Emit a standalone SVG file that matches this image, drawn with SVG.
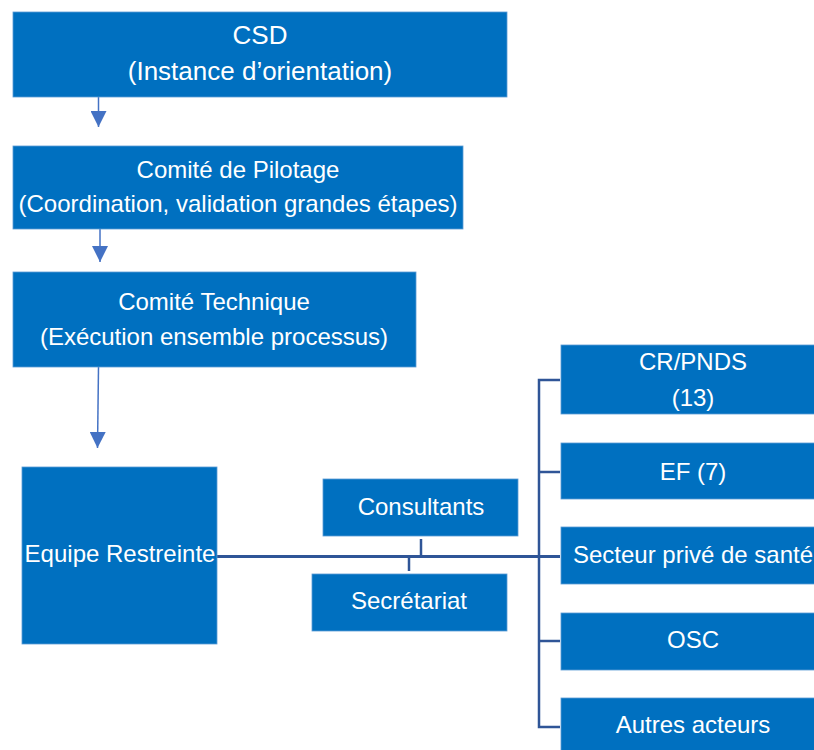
<svg xmlns="http://www.w3.org/2000/svg" width="814" height="750" viewBox="0 0 814 750">
<defs>
<style>
.box{fill:#0070C0;stroke:#5B9BD5;stroke-width:0.8}
.t{fill:#FFFFFF;font-family:"Liberation Sans",Arial,sans-serif;font-size:24px;text-anchor:middle}
.big{font-size:26px}
.arrow{stroke:#4472C4;stroke-width:1.5;fill:none}
.line{stroke:#2F5597;stroke-width:3;fill:none}
.tick{stroke:#2F5597;stroke-width:2.5;fill:none}
</style>
<marker id="ah" viewBox="0 0 16 16" refX="16" refY="8" markerWidth="16" markerHeight="16" markerUnits="userSpaceOnUse" orient="auto">
<path d="M0,0 L16,8 L0,16 Z" fill="#4472C4"/>
</marker>
</defs>
<rect width="814" height="750" fill="#FFFFFF"/>
<g id="connectors">
<line class="arrow" x1="98.5" y1="97" x2="98.5" y2="127" marker-end="url(#ah)"/>
<line class="arrow" x1="100" y1="229" x2="100" y2="262" marker-end="url(#ah)"/>
<line class="arrow" x1="98.5" y1="367" x2="97.5" y2="448" marker-end="url(#ah)"/>
<line class="line" x1="217" y1="556.5" x2="560" y2="556.5"/>
<line class="tick" x1="421" y1="539" x2="421" y2="556"/>
<line class="tick" x1="409" y1="556" x2="409" y2="571"/>
<polyline class="tick" points="560,380 539,380 539,727 560,727"/>
<line class="tick" x1="539" y1="472" x2="560" y2="472"/>
<line class="tick" x1="539" y1="641" x2="560" y2="641"/>
</g>
<g id="csd">
<rect class="box" x="13" y="12" width="494" height="85"/>
<text class="t big" x="260" y="44">CSD</text>
<text class="t big" x="260" y="80">(Instance d’orientation)</text>
</g>
<g id="pilotage">
<rect class="box" x="13" y="146" width="450" height="83"/>
<text class="t" x="238" y="178">Comité de Pilotage</text>
<text class="t" x="238" y="212">(Coordination, validation grandes étapes)</text>
</g>
<g id="technique">
<rect class="box" x="13" y="272" width="403" height="95"/>
<text class="t" x="214" y="310">Comité Technique</text>
<text class="t" x="214" y="345">(Exécution ensemble processus)</text>
</g>
<g id="equipe">
<rect class="box" x="22" y="467" width="195" height="177"/>
<text class="t" x="120" y="562">Equipe Restreinte</text>
</g>
<g id="consultants">
<rect class="box" x="323" y="479" width="195" height="57"/>
<text class="t" x="421" y="515">Consultants</text>
</g>
<g id="secretariat">
<rect class="box" x="312" y="574" width="195" height="57"/>
<text class="t" x="409" y="609">Secrétariat</text>
</g>
<g id="crpnds">
<rect class="box" x="561" y="345" width="270" height="69"/>
<text class="t" x="693" y="370">CR/PNDS</text>
<text class="t" x="693" y="406">(13)</text>
</g>
<g id="ef">
<rect class="box" x="561" y="443" width="270" height="56"/>
<text class="t" x="693" y="480">EF (7)</text>
</g>
<g id="prive">
<rect class="box" x="561" y="527" width="270" height="57"/>
<text class="t" x="693" y="563">Secteur privé de santé</text>
</g>
<g id="osc">
<rect class="box" x="561" y="613" width="270" height="57"/>
<text class="t" x="693" y="648">OSC</text>
</g>
<g id="autres">
<rect class="box" x="561" y="698" width="270" height="60"/>
<text class="t" x="693" y="733">Autres acteurs</text>
</g>
</svg>
